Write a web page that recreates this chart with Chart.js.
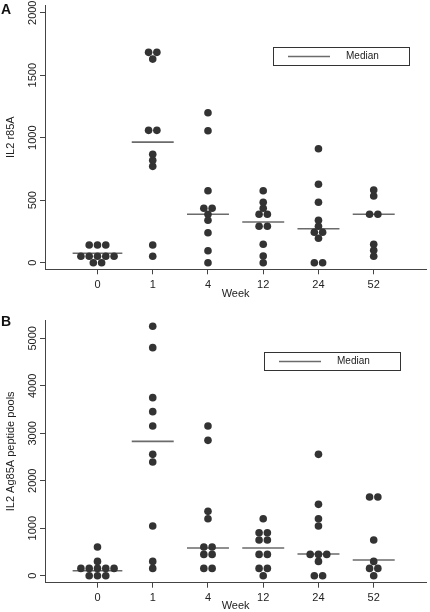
<!DOCTYPE html>
<html>
<head>
<meta charset="UTF-8">
<title>IL2 responses by week</title>
<script src="https://cdn.jsdelivr.net/npm/chart.js"></script>
<style>
    body { margin: 0; background: #fff; font-family: "Liberation Sans", Arial, sans-serif; }
    #wrap { position: relative; width: 430px; height: 612px; }
    canvas { position: absolute; left: 0; }
    .letter { position: absolute; left: 1px; font-weight: bold; font-size: 14px; line-height: 1; color: #111; }
</style>
</head>
<body>
<div id="wrap">
    <canvas id="chartA" width="430" height="300" style="top:0"></canvas>
    <canvas id="chartB" width="430" height="312" style="top:300px"></canvas>
    <div class="letter" style="top:2px">A</div>
    <div class="letter" style="top:314px">B</div>
</div>
<script>
    const weeks = ["0", "1", "4", "12", "24", "52"];

    // panel A: IL2 r85A, one list per week
    const r85aValues = [
        [141, 141, 141, 51, 51, 51, 51, 51, 0, 0],
        [1683, 1683, 1629, 1059, 1059, 867, 819, 771, 141, 51],
        [1200, 1056, 576, 435, 435, 387, 339, 240, 96, 0],
        [576, 483, 435, 387, 387, 291, 291, 147, 53, 0],
        [912, 627, 483, 339, 291, 243, 243, 195, 0, 0],
        [581, 533, 387, 387, 147, 99, 51]
    ];
    const r85aMedians = [75, 965, 387, 325, 272, 387];
    const r85aTicks = [0, 500, 1000, 1500, 2000];

    // panel B: IL2 Ag85A peptide pools
    const ag85aValues = [
        [604, 302, 154, 154, 154, 154, 154, 0, 0, 0],
        [5252, 4803, 3750, 3455, 3153, 2556, 2395, 1046, 302, 154],
        [3153, 2851, 1355, 1201, 604, 604, 449, 449, 154, 154],
        [1201, 906, 906, 751, 751, 449, 449, 154, 154, 0],
        [2556, 1503, 1201, 1046, 449, 449, 449, 302, 0, 0],
        [1657, 1657, 751, 302, 154, 154, 0]
    ];
    const ag85aMedians = [105, 2830, 583, 583, 456, 330];
    const ag85aTicks = [0, 1000, 2000, 3000, 4000, 5000];

    const DOT_STEP = 0.15; // horizontal spacing of dots sharing a value (x units)

    // dot plot: equal values in a week are spread side by side
    function dotPoints(values) {
        const pts = [];
        values.forEach((list, wi) => {
            const counts = {};
            list.forEach(v => counts[v] = (counts[v] || 0) + 1);
            Object.keys(counts).forEach(k => {
                const n = counts[k];
                for (let j = 0; j < n; j++) {
                    pts.push({ x: wi + (j - (n - 1) / 2) * DOT_STEP, y: Number(k) });
                }
            });
        });
        return pts;
    }

    function medianPoints(values, medians) {
        const pts = [];
        medians.forEach((m, wi) => {
            const counts = {};
            values[wi].forEach(v => counts[v] = (counts[v] || 0) + 1);
            const widest = Math.max(...Object.values(counts));
            const half = Math.max(0.38, (widest - 1) / 2 * DOT_STEP + 0.15);
            pts.push({ x: wi - half, y: m }, { x: wi + half, y: m }, { x: wi, y: null });
        });
        return pts;
    }

    // framed "Median" key inside the plot
    const medianKey = {
        id: "medianKey",
        afterDraw(chart, args, opts) {
            const c = chart.ctx;
            c.save();
            c.strokeStyle = "#333";
            c.lineWidth = 1;
            c.strokeRect(opts.left + 0.5, opts.top + 0.5, opts.width, opts.height);
            c.strokeStyle = "#6b6b6b";
            c.lineWidth = 1.6;
            const my = opts.top + opts.height / 2 + 0.5;
            c.beginPath();
            c.moveTo(opts.left + 15, my);
            c.lineTo(opts.left + 57, my);
            c.stroke();
            c.fillStyle = "#222";
            c.font = "10px 'Liberation Sans', Arial, sans-serif";
            c.textBaseline = "middle";
            c.fillText("Median", opts.left + 73, my);
            c.restore();
        }
    };

    function makeChart(id, values, medians, ticks, yMin, yMax, yTitle, pad, xHeight, key) {
        return new Chart(document.getElementById(id), {
            type: "scatter",
            data: {
                datasets: [{
                    data: dotPoints(values),
                    backgroundColor: "#333",
                    borderWidth: 0,
                    pointRadius: 3.8,
                    pointHoverRadius: 3.8
                }, {
                    data: medianPoints(values, medians),
                    showLine: true,
                    spanGaps: false,
                    borderColor: "#6b6b6b",
                    borderWidth: 1.6,
                    pointRadius: 0
                }]
            },
            options: {
                responsive: false,
                animation: false,
                devicePixelRatio: 1,
                layout: { padding: pad },
                plugins: {
                    legend: { display: false },
                    tooltip: { enabled: false },
                    medianKey: key
                },
                scales: {
                    x: {
                        type: "linear",
                        min: -0.95,
                        max: 5.95,
                        afterBuildTicks: s => { s.ticks = weeks.map((w, i) => ({ value: i })); },
                        afterFit: s => { s.height = xHeight; },
                        ticks: {
                            callback: v => weeks[v],
                            autoSkip: false,
                            maxRotation: 0,
                            padding: 4,
                            color: "#222",
                            font: { size: 11, family: "'Liberation Sans', Arial" }
                        },
                        grid: { drawOnChartArea: false, tickLength: 5, color: "#444" },
                        border: { color: "#444", width: 1 },
                        title: {
                            display: true,
                            text: "Week",
                            color: "#222",
                            padding: { top: 0, bottom: -1 },
                            font: { size: 11, family: "'Liberation Sans', Arial", lineHeight: 1.2 }
                        }
                    },
                    y: {
                        min: yMin,
                        max: yMax,
                        afterBuildTicks: s => { s.ticks = ticks.map(v => ({ value: v })); },
                        afterFit: s => { s.width = 45; },
                        ticks: {
                            callback: v => String(v),
                            minRotation: 90,
                            maxRotation: 90,
                            crossAlign: "center",
                            padding: -5,
                            color: "#222",
                            font: { size: 11, family: "'Liberation Sans', Arial" }
                        },
                        grid: { drawOnChartArea: false, tickLength: 5, color: "#444" },
                        border: { color: "#444", width: 1 },
                        title: {
                            display: true,
                            text: yTitle,
                            color: "#222",
                            padding: { top: 4.4, bottom: 0 },
                            font: { size: 11, family: "'Liberation Sans', Arial", lineHeight: 1.2 }
                        }
                    }
                }
            },
            plugins: [medianKey]
        });
    }

    makeChart("chartA", r85aValues, r85aMedians, r85aTicks, -53, 2062, "IL2 r85A",
        { top: 5, right: 2, left: 0, bottom: 0 }, 30.7,
        { left: 273, top: 47, width: 136, height: 18 });

    makeChart("chartB", ag85aValues, ag85aMedians, ag85aTicks, -147, 5385, "IL2 Ag85A peptide pools",
        { top: 20, right: 2, left: 0, bottom: 0 }, 29.3,
        { left: 264, top: 52, width: 136, height: 18 });
</script>
</body>
</html>
